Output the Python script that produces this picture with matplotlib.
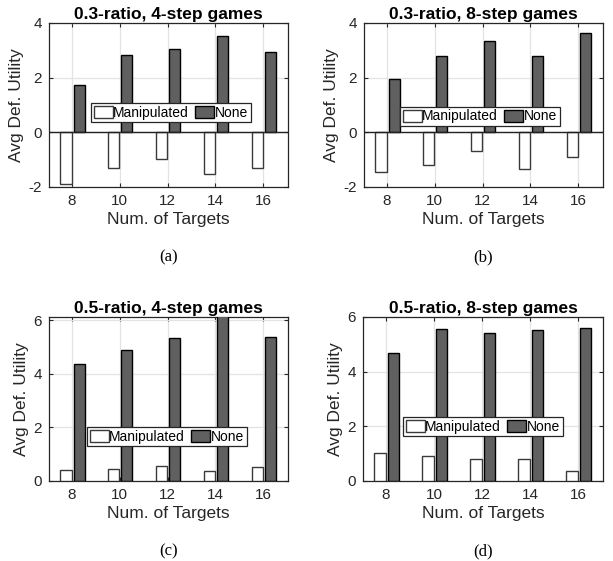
import matplotlib
matplotlib.use("Agg")
import matplotlib.pyplot as plt
import numpy as np

plt.rcParams["font.family"] = ["Liberation Sans", "DejaVu Sans"]
plt.rcParams["axes.unicode_minus"] = False

targets = [8, 10, 12, 14, 16]

# (a) 0.3-ratio, 4-step
manip_a = [-1.89, -1.30, -0.98, -1.54, -1.32]
none_a = [1.73, 2.83, 3.05, 3.54, 2.93]
# (b) 0.3-ratio, 8-step
manip_b = [-1.44, -1.18, -0.67, -1.35, -0.91]
none_b = [1.95, 2.79, 3.34, 2.79, 3.63]
# (c) 0.5-ratio, 4-step
manip_c = [0.40, 0.46, 0.55, 0.37, 0.54]
none_c = [4.38, 4.87, 5.35, 6.30, 5.38]
# (d) 0.5-ratio, 8-step
manip_d = [1.03, 0.93, 0.81, 0.82, 0.37]
none_d = [4.68, 5.56, 5.41, 5.52, 5.61]

titoli = ["0.3-ratio, 4-step games", "0.3-ratio, 8-step games",
          "0.5-ratio, 4-step games", "0.5-ratio, 8-step games"]
didascalie = ["(a)", "(b)", "(c)", "(d)"]

W, H = 613, 561
posizioni = [(49, 23, 288, 187), (364, 23, 603, 187),
             (49, 317, 288, 481), (363, 317, 603, 481)]
ylims = [(-2, 4), (-2, 4), (0, 6.12), (0, 6)]
yticks = [[-2, 0, 2, 4], [-2, 0, 2, 4], [0, 2, 4, 6], [0, 2, 4, 6]]
legende = [(0.51, 0.454), (0.485, 0.43), (0.493, 0.271), (0.50, 0.332)]
dati = [(manip_a, none_a), (manip_b, none_b), (manip_c, none_c), (manip_d, none_d)]

fig = plt.figure(figsize=(W / 100, H / 100), dpi=100)
x = np.array(targets, dtype=float)

for i in range(4):
    l, t, r, b = posizioni[i]
    ax = fig.add_axes([l / W, 1 - b / H, (r - l) / W, (b - t) / H])
    manip, none = dati[i]
    ax.bar(x - 0.25, manip, width=0.47, color="white", edgecolor="#3a3a3a",
           linewidth=1.0, label="Manipulated", zorder=3)
    ax.bar(x + 0.30, none, width=0.46, color="#606060", edgecolor="black",
           linewidth=1.0, label="None", zorder=3)
    if ylims[i][0] < 0:
        ax.axhline(0, color="#222222", linewidth=1.0, zorder=4)
    ax.set_xlim(7.04, 17.04)
    ax.set_ylim(*ylims[i])
    ax.set_xticks(targets)
    ax.set_yticks(yticks[i])
    ax.grid(True, color="#e3e3e3", linewidth=0.9, zorder=0)
    ax.set_axisbelow(True)
    for s in ax.spines.values():
        s.set_color("#262626")
        s.set_linewidth(0.9)
    ax.tick_params(direction="in", length=3, width=0.8, top=True, right=True,
                   labelsize=11, colors="#262626", pad=5)
    ax.set_title(titoli[i], fontsize=12.5, fontweight="bold", pad=3)
    ax.set_xlabel("Num. of Targets", fontsize=12.5, color="#262626", labelpad=3)
    ax.set_ylabel("Avg Def. Utility", fontsize=12.5, color="#262626", labelpad=3)
    leg = ax.legend(loc="center", bbox_to_anchor=legende[i], ncol=2,
                    fontsize=10, fancybox=False, framealpha=1,
                    handlelength=1.35, handleheight=0.95, handletextpad=0.05,
                    columnspacing=0.45, borderpad=0.2, borderaxespad=0)
    leg.get_frame().set_edgecolor("#262626")
    leg.get_frame().set_linewidth(0.9)
    leg.set_zorder(10)
    cx = (l + r) / 2 / W
    cy = 1 - (b + 70) / H
    fig.text(cx, cy, didascalie[i], ha="center", va="center", fontsize=12,
             family=["Liberation Serif", "DejaVu Serif"])

fig.savefig("out.png", dpi=100)
